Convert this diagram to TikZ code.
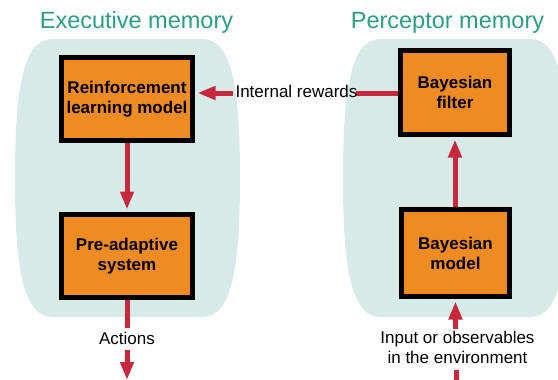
\documentclass[tikz,border=0pt]{standalone}
\usepackage{fontspec}
\setmainfont{Liberation Sans}
\usetikzlibrary{arrows.meta}
\definecolor{ttitle}{HTML}{2A9D82}
\definecolor{tblob}{HTML}{D6EAE7}
\definecolor{torange}{HTML}{EE8B22}
\definecolor{tred}{HTML}{C8283C}
\pgfdeclarelayer{bg}
\pgfdeclarelayer{mid}
\pgfsetlayers{bg,mid,main}
\begin{document}
\begin{tikzpicture}[x=1pt,y=-1pt,
  box/.style={draw=black, line width=5pt, fill=torange, align=center,
    font=\fontsize{17}{20}\selectfont\bfseries, inner sep=0pt},
  ln/.style={draw=tred, line width=5pt},
  arr/.style={ln, -{Triangle[length=18pt,width=13pt]}},
  lbl/.style={font=\fontsize{17}{20}\selectfont, align=center, inner sep=0pt},
  ttl/.style={font=\fontsize{23.5}{28}\selectfont, text=ttitle, anchor=base, inner sep=0pt},
  blobfill/.style={fill=tblob}]
\clip (0,0) rectangle (558,380);
% memory regions
\begin{pgfonlayer}{bg}
\foreach \cx in {127.5,455.5}{
  \path[blobfill, shift={(\cx,178)}]
    (-75,-139) -- (75,-139)
    .. controls (105,-139) and (112.5,-88) .. (112.5,0)
    .. controls (112.5,88) and (105,139) .. (75,139)
    -- (-75,139)
    .. controls (-105,139) and (-112.5,88) .. (-112.5,0)
    .. controls (-112.5,-88) and (-105,-139) .. (-75,-139) -- cycle;
}
\end{pgfonlayer}
% titles
\node[ttl] (t1) at (136.5,28) {Executive memory};
\node[ttl] (t2) at (447.5,28) {Perceptor memory};
% boxes
\node[box, minimum width=131pt, minimum height=83pt] (rl) at (127,99) {Reinforcement\\learning model};
\node[box, minimum width=131pt, minimum height=83pt] (pre) at (127,256) {Pre-adaptive\\system};
\node[box, minimum width=109pt, minimum height=84pt] (bf) at (455,92.5) {Bayesian\\filter};
\node[box, minimum width=108pt, minimum height=87pt] (bm) at (455.5,253) {Bayesian\\model};
% labels
\node[lbl] (ir) at (296.5,91) {Internal rewards};
\node[lbl] (act) at (127,338) {Actions};
\node[lbl, anchor=north] (inp) at (457.5,330.5) {Input or observables\\in the environment};
\coordinate (iry) at (0,93);
\coordinate (actend) at (127,380);
\coordinate (inbot) at (456,380);
% connectors
\begin{pgfonlayer}{mid}
\draw[ln, shorten >=-2pt] (bf.west |- iry) -- (ir.east |- iry);
\draw[arr, shorten <=2pt, shorten >=2.5pt] (ir.west |- iry) -- (rl.east |- iry);
\draw[arr, shorten >=2.5pt] (rl.south) -- (pre.north);
\draw[ln, shorten >=4pt] (pre.south) -- (act.north);
\draw[arr, shorten <=6pt] (act.south) -- (actend);
\draw[ln, shorten >=7pt] (inbot) -- (inp.south -| inbot);
\draw[arr, shorten <=2pt, shorten >=2.5pt] (inp.north -| bm.south) -- (bm.south);
\draw[arr, shorten >=2.5pt] (bm.north -| bf.south) -- (bf.south);
\end{pgfonlayer}
\end{tikzpicture}
\end{document}
